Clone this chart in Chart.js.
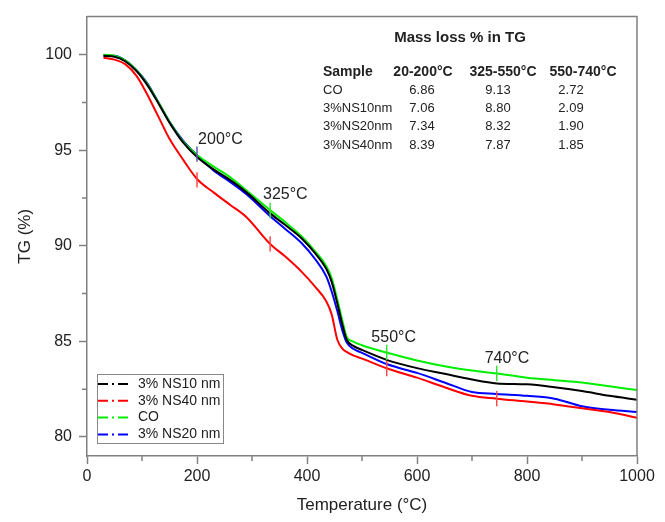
<!DOCTYPE html>
<html>
<head>
<meta charset="utf-8">
<script src="https://cdn.jsdelivr.net/npm/chart.js@4.4.0/dist/chart.umd.min.js"></script>
<style>
html,body{margin:0;padding:0;background:#fff}
</style>
</head>
<body>
<canvas id="tg" width="665" height="522"></canvas>
<script>
// temperature grid (°C) and TG (%)
const temps  = [30, 50, 70, 90, 110, 130, 150, 175, 200, 230, 260, 290, 333, 360, 390, 415, 435, 445, 455, 465, 472, 485, 500, 546, 600, 650, 700, 745, 800, 850, 900, 950, 1000];
const tgNS10 = [99.95, 99.9, 99.65, 99.15, 98.4, 97.45, 96.45, 95.4, 94.65, 94.0, 93.45, 92.8, 91.7, 91.1, 90.4, 89.6, 88.8, 88.1, 87.0, 85.8, 85.1, 84.75, 84.55, 84.02, 83.6, 83.3, 83.0, 82.8, 82.75, 82.6, 82.4, 82.15, 81.95];
const tgNS40 = [99.85, 99.75, 99.5, 98.9, 97.9, 96.75, 95.6, 94.5, 93.5, 92.8, 92.15, 91.5, 90.1, 89.45, 88.65, 87.85, 87.1, 86.4, 85.1, 84.6, 84.45, 84.25, 84.1, 83.58, 83.1, 82.6, 82.15, 82.0, 81.85, 81.7, 81.5, 81.3, 81.0];
const tgCO   = [100.0, 99.95, 99.7, 99.2, 98.45, 97.5, 96.5, 95.45, 94.75, 94.15, 93.6, 92.9, 91.87, 91.25, 90.5, 89.7, 88.95, 88.3, 87.2, 86.0, 85.25, 84.98, 84.8, 84.4, 84.0, 83.7, 83.47, 83.32, 83.1, 82.97, 82.85, 82.65, 82.45];
const tgNS20 = [99.95, 99.95, 99.7, 99.2, 98.5, 97.5, 96.5, 95.5, 94.75, 93.95, 93.35, 92.7, 91.55, 90.9, 90.15, 89.3, 88.4, 87.6, 86.6, 85.5, 84.95, 84.6, 84.4, 83.8, 83.35, 82.85, 82.35, 82.25, 82.15, 82.0, 81.6, 81.42, 81.3];
const seriesNames = ['3% NS10 nm', '3% NS40 nm', 'CO', '3% NS20 nm'];

const xTicks = [0, 200, 400, 600, 800, 1000];
const xMinorTicks = [100, 300, 500, 700, 900];
const yTicks = [80, 85, 90, 95, 100];
const yMinorTicks = [82.5, 87.5, 92.5, 97.5];

// short range marks on the curves
const markTempBlue = [200];
const markTGBlue = [94.8];
const markTempRed = [200, 333, 545, 745];
const markTGRed = [93.45, 90.1, 83.58, 82.0];
const markTempGreen = [333, 545, 745];
const markTGGreen = [91.85, 84.42, 83.32];

const markLabels = ['200°C', '325°C', '550°C', '740°C'];
const markLabelTemp = [202, 320, 517, 723];
const markLabelTG = [95.55, 92.7, 85.2, 84.1];

// inset table
const tableTitle = 'Mass loss % in TG';
const tableHead = ['Sample', '20-200°C', '325-550°C', '550-740°C'];
const tableSamples = ['CO', '3%NS10nm', '3%NS20nm', '3%NS40nm'];
const loss20_200 = ['6.86', '7.06', '7.34', '8.39'];
const loss325_550 = ['9.13', '8.80', '8.32', '7.87'];
const loss550_740 = ['2.72', '2.09', '1.90', '1.85'];

const FONT = '"Liberation Sans", Arial, sans-serif';
const AXIS = '#808080';

function pts(xs, ys) {
    return xs.map((x, i) => ({x: x, y: ys[i]}));
}

function markPts(xs, ys) {
    let out = [];
    xs.forEach((x, i) => {
        out.push({x: x, y: ys[i] - 0.4}, {x: x, y: ys[i] + 0.4}, {x: x, y: null});
    });
    return out;
}

function curve(label, values, color) {
    return {
        label: label, data: pts(temps, values), borderColor: color,
        borderWidth: 2, pointRadius: 0, tension: 0.3, cubicInterpolationMode: 'monotone',
        isCurve: true
    };
}

function marks(xs, ys, color) {
    return {
        data: markPts(xs, ys), borderColor: color, borderWidth: 1.5,
        pointRadius: 0, spanGaps: false, order: -1, isCurve: false
    };
}

const extras = {
    id: 'extras',
    afterDraw(chart) {
        const ctx = chart.ctx;
        const a = chart.chartArea;
        const xs = chart.scales.x, ys = chart.scales.y;
        ctx.save();

        // top and right frame
        ctx.strokeStyle = AXIS;
        ctx.lineWidth = 1.5;
        ctx.beginPath();
        ctx.moveTo(a.left, a.top);
        ctx.lineTo(a.right, a.top);
        ctx.lineTo(a.right, a.bottom);
        ctx.stroke();

        // minor ticks
        ctx.beginPath();
        xMinorTicks.forEach(v => {
            const px = xs.getPixelForValue(v);
            ctx.moveTo(px, a.bottom);
            ctx.lineTo(px, a.bottom + 5);
        });
        yMinorTicks.forEach(v => {
            const py = ys.getPixelForValue(v);
            ctx.moveTo(a.left, py);
            ctx.lineTo(a.left - 5, py);
        });
        ctx.stroke();

        // temperature labels
        ctx.fillStyle = '#222';
        ctx.font = '16px ' + FONT;
        ctx.textBaseline = 'middle';
        ctx.textAlign = 'left';
        markLabels.forEach((t, i) => {
            ctx.fillText(t, xs.getPixelForValue(markLabelTemp[i]), ys.getPixelForValue(markLabelTG[i]));
        });

        // table
        ctx.font = 'bold 15px ' + FONT;
        ctx.textAlign = 'center';
        ctx.fillText(tableTitle, 460, 38);
        ctx.font = 'bold 14px ' + FONT;
        ctx.textAlign = 'left';
        ctx.fillText(tableHead[0], 323, 72);
        ctx.textAlign = 'center';
        ctx.fillText(tableHead[1], 423, 72);
        ctx.fillText(tableHead[2], 503, 72);
        ctx.fillText(tableHead[3], 583, 72);
        ctx.font = '13px ' + FONT;
        const rowY = [90, 108, 126, 145];
        tableSamples.forEach((s, i) => {
            ctx.textAlign = 'left';
            ctx.fillText(s, 323, rowY[i]);
            ctx.textAlign = 'center';
            ctx.fillText(loss20_200[i], 422, rowY[i]);
            ctx.fillText(loss325_550[i], 498, rowY[i]);
            ctx.fillText(loss550_740[i], 571, rowY[i]);
        });

        // legend
        const lx = a.left + 10, ly = a.bottom - 82;
        ctx.strokeStyle = '#888';
        ctx.lineWidth = 1;
        ctx.strokeRect(lx + 0.5, ly + 0.5, 126, 69);
        ctx.font = '14px ' + FONT;
        ctx.textAlign = 'left';
        const items = chart.data.datasets.filter(d => d.isCurve);
        items.forEach((d, i) => {
            const y = ly + 10 + i * 16.8;
            ctx.strokeStyle = d.borderColor;
            ctx.lineWidth = 2;
            ctx.setLineDash([10, 4, 2, 4]);
            ctx.beginPath();
            ctx.moveTo(lx + 1, y);
            ctx.lineTo(lx + 35, y);
            ctx.stroke();
            ctx.setLineDash([]);
            ctx.fillStyle = '#222';
            ctx.fillText(d.label, lx + 41, y);
        });
        ctx.restore();
    }
};

new Chart(document.getElementById('tg'), {
    type: 'line',
    data: {
        datasets: [
            curve(seriesNames[0], tgNS10, '#000000'),
            curve(seriesNames[1], tgNS40, '#ff0000'),
            curve(seriesNames[2], tgCO, '#00ee00'),
            curve(seriesNames[3], tgNS20, '#0000ff'),
            marks(markTempBlue, markTGBlue, '#5a5ab4'),
            marks(markTempRed, markTGRed, '#ff4a4a'),
            marks(markTempGreen, markTGGreen, '#3ae03a')
        ]
    },
    options: {
        responsive: false,
        animation: false,
        devicePixelRatio: 1,
        layout: {padding: {top: 7, right: 28, left: 0, bottom: 0}},
        plugins: {legend: {display: false}, tooltip: {enabled: false}},
        scales: {
            x: {
                type: 'linear', min: 0, max: 1000,
                afterBuildTicks: s => { s.ticks = xTicks.map(v => ({value: v})); },
                afterFit: s => { s.height = 66; },
                ticks: {font: {size: 16, family: FONT}, color: '#222', padding: 3, maxRotation: 0,
                        callback: v => String(v)},
                grid: {drawOnChartArea: false, tickLength: 8, tickColor: AXIS, tickWidth: 1.5},
                border: {color: AXIS, width: 1.5},
                title: {display: true, text: 'Temperature (°C)', color: '#222',
                        font: {size: 17, family: FONT}, padding: {top: 0, bottom: 6}}
            },
            y: {
                type: 'linear', min: 79, max: 102,
                afterBuildTicks: s => { s.ticks = yTicks.map(v => ({value: v})); },
                afterFit: s => { s.width = 87; },
                ticks: {font: {size: 16, family: FONT}, color: '#222', padding: 7,
                        callback: v => String(v)},
                grid: {drawOnChartArea: false, tickLength: 8, tickColor: AXIS, tickWidth: 1.5},
                border: {color: AXIS, width: 1.5},
                title: {display: true, text: 'TG (%)', color: '#222',
                        font: {size: 17, family: FONT}, padding: {top: 15, bottom: 0}}
            }
        }
    },
    plugins: [extras]
});
</script>
</body>
</html>
